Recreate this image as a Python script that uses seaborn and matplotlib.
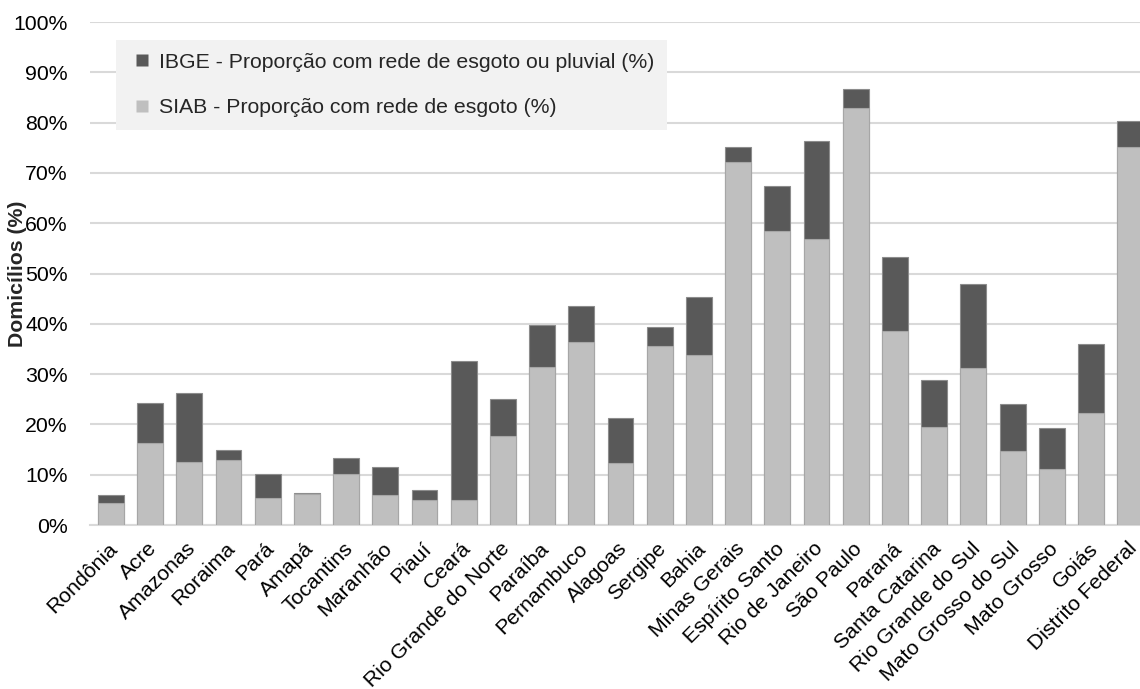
import matplotlib
matplotlib.use("Agg")
import matplotlib.pyplot as plt
import matplotlib.transforms as mtransforms
from matplotlib.lines import Line2D
from matplotlib.ticker import MultipleLocator, FuncFormatter
import seaborn as sns
import pandas as pd

states = [
    "Rondônia", "Acre", "Amazonas", "Roraima", "Pará", "Amapá", "Tocantins",
    "Maranhão", "Piauí", "Ceará", "Rio Grande do Norte", "Paraíba", "Pernambuco",
    "Alagoas", "Sergipe", "Bahia", "Minas Gerais", "Espírito Santo",
    "Rio de Janeiro", "São Paulo", "Paraná", "Santa Catarina",
    "Rio Grande do Sul", "Mato Grosso do Sul", "Mato Grosso", "Goiás",
    "Distrito Federal",
]
ibge = [5.9, 24.3, 26.2, 15.0, 10.1, 6.4, 13.3, 11.5, 6.9, 32.7, 25.0, 39.8,
        43.6, 21.3, 39.3, 45.3, 75.2, 67.4, 76.4, 86.6, 53.2, 28.9, 47.9, 24.1,
        19.3, 35.9, 80.4]
siab = [4.4, 16.4, 12.5, 13.0, 5.3, 6.2, 10.2, 6.0, 4.9, 4.9, 17.6, 31.4,
        36.3, 12.3, 35.5, 33.9, 72.2, 58.4, 56.9, 82.9, 38.5, 19.5, 31.3, 14.7,
        11.1, 22.2, 75.2]

label_ibge = "IBGE - Proporção com rede de esgoto ou pluvial (%)"
label_siab = "SIAB - Proporção com rede de esgoto (%)"

df = pd.DataFrame({"estado": states, "ibge": ibge, "siab": siab})

sns.set_theme(style="white")
plt.rcParams["font.family"] = ["Liberation Sans", "DejaVu Sans"]

dark = "#595959"
light = "#bfbfbf"
grid = "#d9d9d9"
fs = 15.3

fig = plt.figure(figsize=(11.4, 6.89), dpi=100)
ax = fig.add_axes([0.079, 0.238, 0.921, 0.730])

sns.barplot(data=df, x="estado", y="ibge", color=dark, saturation=1,
            width=0.66, edgecolor="#8c8c8c", linewidth=0.8, ax=ax, zorder=2)
sns.barplot(data=df, x="estado", y="siab", color=light, saturation=1,
            width=0.66, edgecolor="#a6a6a6", linewidth=0.8, ax=ax, zorder=3)

ax.set_ylim(0, 100)
ax.set_xlim(-0.53, 26.25)
ax.yaxis.set_major_locator(MultipleLocator(10))
ax.yaxis.set_major_formatter(FuncFormatter(lambda v, p: f"{v:.0f}%"))
ax.grid(axis="y", color=grid, linewidth=1.5, zorder=0)
ax.set_axisbelow(True)
for side in ["top", "right", "left"]:
    ax.spines[side].set_visible(False)
ax.spines["bottom"].set_color(grid)
ax.spines["bottom"].set_linewidth(1.5)
ax.tick_params(axis="both", length=0, labelsize=fs, colors="#000000")
ax.tick_params(axis="y", pad=16)
ax.tick_params(axis="x", pad=10)

ax.set_xlabel("")
ax.set_ylabel("Domicílios (%)", fontsize=fs, fontweight="bold", labelpad=-10)

# rotated state names, anchored at their upper-right end just below each bar
shift = mtransforms.ScaledTranslation(-3 / 100, 0, fig.dpi_scale_trans)
for lab in ax.get_xticklabels():
    lab.set_rotation(45)
    lab.set_ha("right")
    lab.set_va("top")
    lab.set_rotation_mode("anchor")
    lab.set_transform(lab.get_transform() + shift)

handles = [Line2D([], [], marker="s", linestyle="none", markersize=8.6,
                  markerfacecolor=dark, markeredgecolor="none"),
           Line2D([], [], marker="s", linestyle="none", markersize=8.6,
                  markerfacecolor=light, markeredgecolor="none")]
leg = ax.legend(handles, [label_ibge, label_siab], loc="upper left",
                bbox_to_anchor=(0.025, 0.964), fontsize=fs, frameon=True,
                fancybox=False, framealpha=1, facecolor="#f2f2f2",
                edgecolor="#f2f2f2", handlelength=1.2, handletextpad=0.2,
                labelspacing=1.25, borderpad=0.6, borderaxespad=0)
leg.get_frame().set_linewidth(0)

fig.savefig("out.png", dpi=100)
